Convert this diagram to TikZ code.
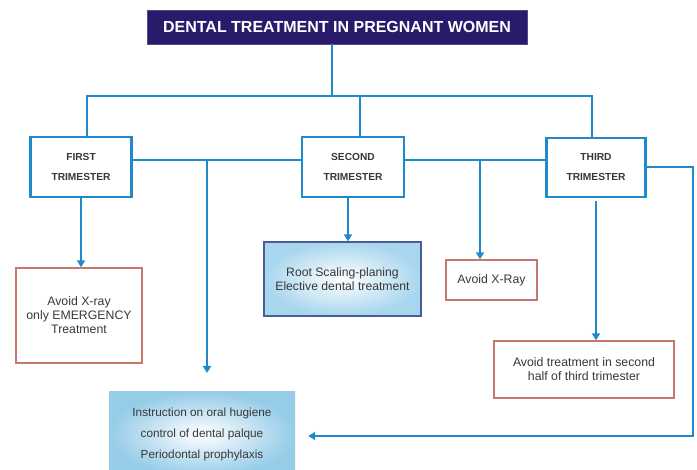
\documentclass[tikz,border=0pt]{standalone}
\usepackage{fontspec}
\setmainfont{Liberation Sans}
\usetikzlibrary{arrows.meta,calc}
\definecolor{lineblue}{HTML}{1E8ACB}
\definecolor{titlebg}{HTML}{2A1A6C}
\definecolor{redline}{HTML}{C8776C}
\definecolor{rootborder}{HTML}{4A5C98}
\definecolor{txt}{HTML}{383838}
\definecolor{shadeblue}{HTML}{96CCE8}
\definecolor{shadelight}{HTML}{A8D6EE}
\begin{document}
\begin{tikzpicture}[x=1pt,y=-1pt,
  conn/.style={draw=lineblue, line width=2pt},
  arr/.style={conn, -{Triangle[width=8pt,length=7pt]}},
  titlebox/.style={fill=titlebg, draw=titlebg!80!white, line width=0.8pt, text=white,
    font=\bfseries\fontsize{16}{18}\selectfont, inner sep=0pt},
  tribox/.style={draw=lineblue, line width=2.4pt, fill=white, text=txt, align=center,
    font=\bfseries\fontsize{10.2}{20}\selectfont, inner sep=0pt},
  redbox/.style={draw=redline, line width=1.4pt, fill=white, text=txt, align=center,
    font=\fontsize{12.3}{14}\selectfont, inner sep=0pt},
  shadebox/.style={inner color=white, outer color=shadeblue, text=txt, align=center,
    inner sep=0pt}
]
\useasboundingbox[fill=white] (0,0) rectangle (697,470);

% title
\node[titlebox, minimum width=380pt, minimum height=34pt] (title) at (337,27)
  {DENTAL TREATMENT IN PREGNANT WOMEN};

% trimesters
\node[tribox, minimum width=101pt, minimum height=60pt] (first) at (81,167) {FIRST\\TRIMESTER};
\node[tribox, minimum width=102pt, minimum height=60pt] (second) at (353,167) {SECOND\\TRIMESTER};
\node[tribox, minimum width=99pt, minimum height=59pt] (third) at (596,167.5) {THIRD\\TRIMESTER};

% outcome boxes
\node[redbox, minimum width=126pt, minimum height=95pt] (avoid1) at (79,315.5)
  {Avoid X-ray\\only EMERGENCY\\Treatment};
\node[shadebox, outer color=shadelight, draw=rootborder, line width=1.3pt, minimum width=157pt, minimum height=74pt,
  font=\fontsize{12.2}{13.5}\selectfont] (root) at (342.5,279)
  {Root Scaling-planing\\Elective dental treatment};
\node[redbox, minimum width=91pt, minimum height=40pt] (xray) at (491.5,280) {Avoid X-Ray};
\node[redbox, minimum width=180pt, minimum height=57pt] (treat) at (584,369.5)
  {Avoid treatment in second\\half of third trimester};
\node[shadebox, minimum width=186pt, minimum height=84pt,
  font=\fontsize{11.8}{21}\selectfont] (bottom) at (202,434)
  {Instruction on oral hugiene\\control of dental palque\\Periodontal prophylaxis};

% junction coordinates
\coordinate (tj) at (332,96);
\coordinate (f1) at (87,96);
\coordinate (s1) at (360,96);
\coordinate (t1) at (592,96);
\coordinate (m1) at (207,160);
\coordinate (m1end) at (207,373);
\coordinate (m2) at (480,160);
\coordinate (a2) at (348,197);
\coordinate (r1) at (693,167);
\coordinate (r2) at (693,436);

% connectors
\draw[conn] (title.south -| tj) -- (tj);
\draw[conn] (first.north -| f1) -- (f1) -- (t1) -- (third.north -| t1);
\draw[conn] (s1) -- (second.north -| s1);
\draw[conn] (first.east |- m1) -- (second.west |- m1);
\draw[arr] (m1) -- (m1end);
\draw[conn] (second.east |- m2) -- (third.west |- m2);
\draw[arr] (m2) -- (xray.north -| m2);
\draw[arr] (first.south) -- (avoid1.north -| first.south);
\draw[arr] (second.south -| a2) -- (root.north -| a2);
\draw[arr, shorten <=3pt] (third.south) -- (treat.north -| third.south);
\draw[arr, shorten >=13pt] (third.east |- r1) -- (r1) -- (r2) -- (bottom.east |- r2);
\end{tikzpicture}
\end{document}
